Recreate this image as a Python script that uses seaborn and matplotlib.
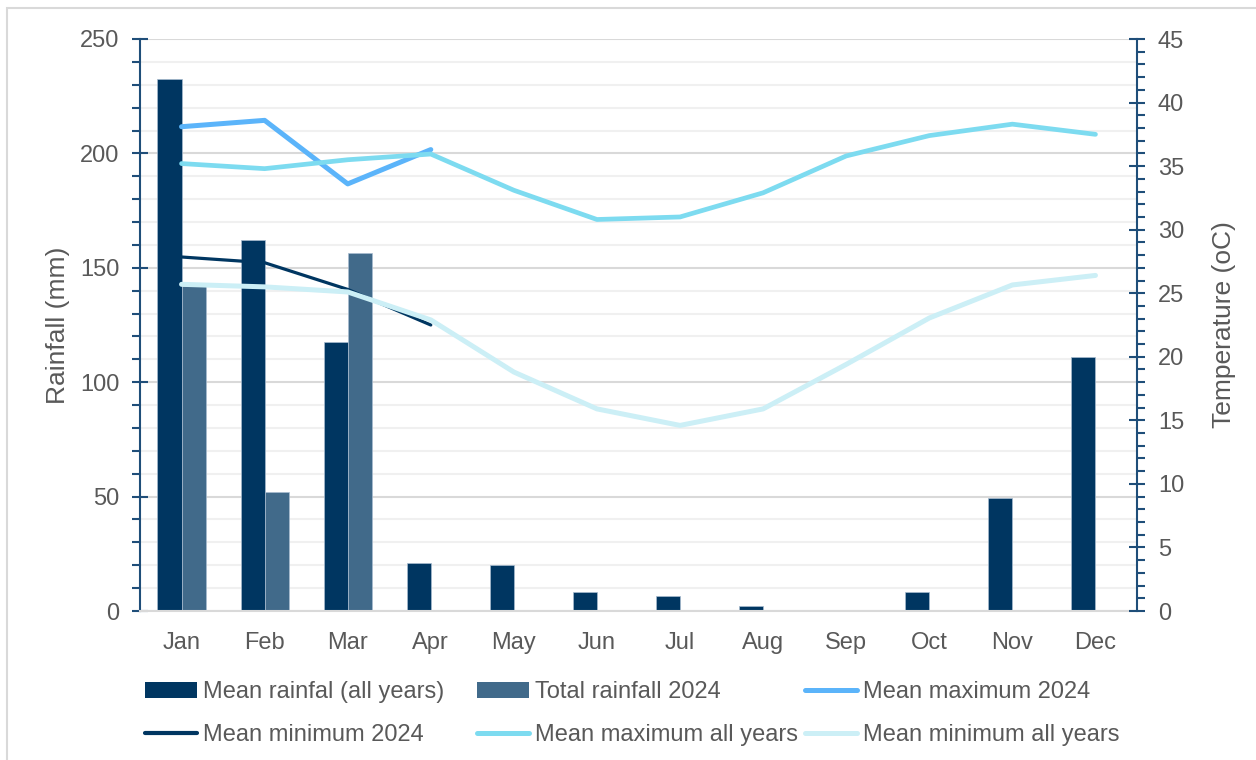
import numpy as np
import pandas as pd
import matplotlib
matplotlib.use("Agg")
import matplotlib.pyplot as plt
from matplotlib.patches import Patch, Rectangle
from matplotlib.lines import Line2D
from matplotlib.ticker import MultipleLocator
import seaborn as sns

# ---------------- data ----------------
months = ["Jan", "Feb", "Mar", "Apr", "May", "Jun", "Jul", "Aug", "Sep", "Oct", "Nov", "Dec"]
mean_rain_all = [232.5, 162, 117.5, 21, 20, 8.3, 6.6, 2.2, 0.6, 8.3, 49.4, 111]
total_rain_2024 = [142, 52, 156.5, np.nan, np.nan, np.nan, np.nan, np.nan, np.nan, np.nan, np.nan, np.nan]
mean_max_2024 = [38.1, 38.6, 33.6, 36.3]
mean_min_2024 = [27.85, 27.4, 25.3, 22.5]
mean_max_all = [35.2, 34.8, 35.5, 35.95, 33.1, 30.8, 31.0, 32.9, 35.8, 37.4, 38.3, 37.5]
mean_min_all = [25.7, 25.5, 25.1, 22.9, 18.8, 15.9, 14.6, 15.9, 19.4, 23.05, 25.65, 26.4]

bar_labels = ["Mean rainfal (all years)", "Total rainfall 2024"]
line_labels = ["Mean maximum 2024", "Mean minimum 2024", "Mean maximum all years", "Mean minimum all years"]

# ---------------- style ----------------
sns.set_style("white")
plt.rcParams["font.family"] = ["Liberation Sans", "DejaVu Sans"]
TEXT = "#595959"
NAVY = "#003661"
STEEL = "#416A8A"
C_MAX24 = "#5BB4FA"
C_MIN24 = "#003661"
C_MAXALL = "#7DDBF0"
C_MINALL = "#CCEFF6"
SPINE = "#1F4E79"

fig = plt.figure(figsize=(12.56, 7.6), dpi=100)
ax1 = fig.add_axes([140 / 1256, 1 - 611 / 760, (1137 - 140) / 1256, (611 - 39) / 760])

# outer chart border
fig.patches.append(Rectangle((7 / 1256, -0.05), 1.1, 1 - 8 / 760 + 0.05, transform=fig.transFigure,
                             fill=False, edgecolor="#D9D9D9", linewidth=1.5))

# ---------------- bars ----------------
df = pd.DataFrame({
    "Month": months * 2,
    "Rain": mean_rain_all + total_rain_2024,
    "Series": [bar_labels[0]] * 12 + [bar_labels[1]] * 12,
})
sns.barplot(data=df, x="Month", y="Rain", hue="Series", order=months, hue_order=bar_labels,
            palette=[NAVY, STEEL], width=0.58, dodge=True, legend=False, ax=ax1,
            edgecolor="#A8BCD0", linewidth=0.5, saturation=1)

ax1.set_ylim(0, 250)
ax1.set_xlim(-0.5, 11.5)
ax1.yaxis.set_major_locator(MultipleLocator(50))
ax1.yaxis.set_minor_locator(MultipleLocator(10))
ax1.set_axisbelow(True)
ax1.grid(which="major", axis="y", color="#D9D9D9", linewidth=1.5)
ax1.grid(which="minor", axis="y", color="#F0F0F0", linewidth=1.5)
ax1.grid(axis="x", visible=False)
for s in ["top", "right"]:
    ax1.spines[s].set_visible(False)
ax1.spines["left"].set_color(SPINE)
ax1.spines["left"].set_linewidth(1.5)
ax1.spines["bottom"].set_color("#D9D9D9")
ax1.spines["bottom"].set_linewidth(1.5)
ax1.tick_params(axis="y", which="major", direction="inout", length=12, width=1.5, color=SPINE,
                labelsize=17, labelcolor=TEXT, pad=9, left=True)
ax1.tick_params(axis="y", which="minor", direction="out", length=6, width=1.5, color=SPINE, left=True)
ax1.tick_params(axis="x", length=0, labelsize=17, labelcolor=TEXT, pad=15)
ax1.set_xlabel("")
ax1.set_ylabel("Rainfall (mm)", fontsize=19, color=TEXT)
ax1.yaxis.set_label_coords(-0.07, 0.5)

# ---------------- lines ----------------
ax2 = ax1.twinx()
idx = np.arange(len(months))
sns.lineplot(x=idx[:4], y=mean_max_2024, ax=ax2, color=C_MAX24, linewidth=3.6, sort=False)
sns.lineplot(x=idx[:4], y=mean_min_2024, ax=ax2, color=C_MIN24, linewidth=2.3, sort=False)
sns.lineplot(x=idx, y=mean_max_all, ax=ax2, color=C_MAXALL, linewidth=3.4, sort=False)
sns.lineplot(x=idx, y=mean_min_all, ax=ax2, color=C_MINALL, linewidth=3.6, sort=False)
for l in ax2.lines:
    l.set_solid_capstyle("round")
ax2.set_ylim(0, 45)
ax2.set_xlim(-0.5, 11.5)
ax2.yaxis.set_major_locator(MultipleLocator(5))
ax2.yaxis.set_minor_locator(MultipleLocator(1))
for s in ["top", "left", "bottom"]:
    ax2.spines[s].set_visible(False)
ax2.spines["right"].set_color(SPINE)
ax2.spines["right"].set_linewidth(1.5)
ax2.tick_params(axis="y", which="major", direction="inout", length=12, width=1.5, color=SPINE,
                labelsize=17, labelcolor=TEXT, pad=9, right=True)
ax2.tick_params(axis="y", which="minor", direction="out", length=6, width=1.5, color=SPINE, right=True)
ax2.set_ylabel("Temperature (oC)", fontsize=19, color=TEXT)
ax2.yaxis.set_label_coords(1.075, 0.5)
ax2.grid(False)

# ---------------- legend ----------------
h_bar1 = Patch(facecolor=NAVY, edgecolor="none")
h_bar2 = Patch(facecolor=STEEL, edgecolor="none")
h_l1 = Line2D([], [], color=C_MAX24, linewidth=3.6, solid_capstyle="round")
h_l2 = Line2D([], [], color=C_MIN24, linewidth=3.0, solid_capstyle="round")
h_l3 = Line2D([], [], color=C_MAXALL, linewidth=3.6, solid_capstyle="round")
h_l4 = Line2D([], [], color=C_MINALL, linewidth=3.6, solid_capstyle="round")

cols = [
    ([h_bar1, h_l2], [bar_labels[0], line_labels[1]], 145),
    ([h_bar2, h_l3], [bar_labels[1], line_labels[2]], 477),
    ([h_l1, h_l4], [line_labels[0], line_labels[3]], 805),
]
for handles, labels, xpx in cols:
    leg = fig.legend(handles, labels, loc="upper left",
                     bbox_to_anchor=(xpx / 1256, 1 - 681 / 760),
                     frameon=False, fontsize=17, handlelength=2.2, handleheight=0.65,
                     handletextpad=0.25, labelspacing=0.9, borderpad=0, borderaxespad=0)
    for t in leg.get_texts():
        t.set_color(TEXT)

fig.savefig("out.png", dpi=100)
